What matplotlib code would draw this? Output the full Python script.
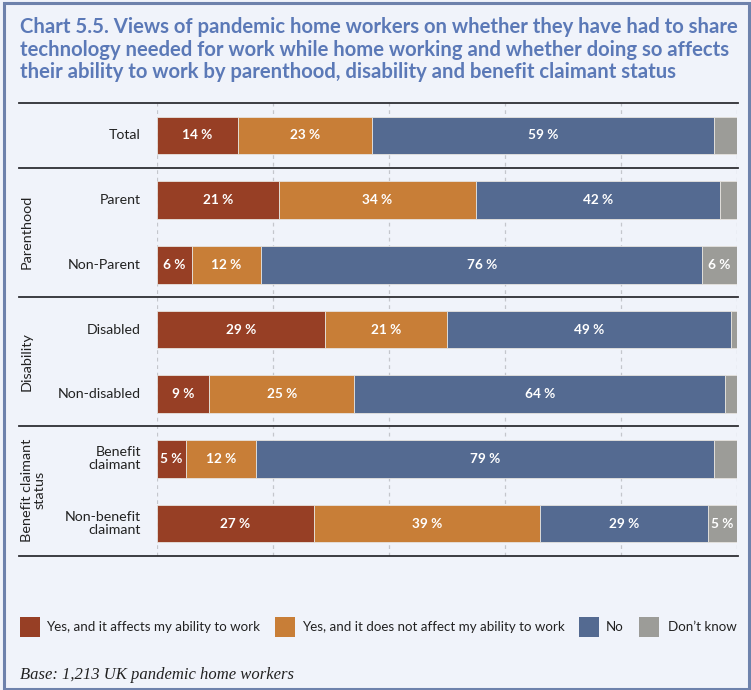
import matplotlib
matplotlib.use("Agg")
import matplotlib.pyplot as plt
from matplotlib.patches import Rectangle
import numpy as np

# Survey responses (percent of pandemic home workers)
categories = ["Total", "Parent", "Non-Parent", "Disabled", "Non-disabled",
              "Benefit\nclaimant", "Non-benefit\nclaimant"]
yes_affects = [14, 21, 6, 29, 9, 5, 27]
yes_not_affects = [23, 34, 12, 21, 25, 12, 39]
no = [59, 42, 76, 49, 64, 79, 29]
dont_know = [4, 3, 6, 1, 3, 4, 5]

series_names = ["Yes, and it affects my ability to work",
                "Yes, and it does not affect my ability to work",
                "No", "Don\u2019t know"]
series = [yes_affects, yes_not_affects, no, dont_know]
colors = ["#973F25", "#C87E37", "#546A91", "#9C9C98"]

groups = ["Parenthood", "Disability", "Benefit claimant\nstatus"]

title_lines = ["Chart 5.5. Views of pandemic home workers on whether they have had to share",
               "technology needed for work while home working and whether doing so affects",
               "their ability to work by parenthood, disability and benefit claimant status"]
note = "Base: 1,213 UK pandemic home workers"

plt.rcParams["font.family"] = ["Lato", "DejaVu Sans"]

BG = "#F0F3FA"
TITLE_C = "#5B79B7"
BORDER = "#6E82AC"
TXT = "#222222"
W, H = 751, 690

fig = plt.figure(figsize=(W / 100, H / 100), dpi=100, facecolor=BG)
renderer = fig.canvas.get_renderer()


def fit_width(t, target_px):
    """Scale a text's font size so that its rendered width is target_px."""
    w = t.get_window_extent(renderer).width
    t.set_fontsize(t.get_fontsize() * target_px / w)


# Frame around the whole figure
fig.patches.append(Rectangle((3.5 / W, 1.5 / H), 745 / W, 686 / H, transform=fig.transFigure,
                             fill=False, edgecolor=BORDER, linewidth=2.2, zorder=0))

# Title, one text per line so each line can be placed exactly
t0 = fig.text(20 / W, 1 - 27 / H, title_lines[0], ha="left", va="center",
              color=TITLE_C, fontsize=14, fontweight="bold")
fit_width(t0, 722)
tsize = t0.get_fontsize()
for line, yc in zip(title_lines[1:], [49.5, 72]):
    fig.text(20 / W, 1 - yc / H, line, ha="left", va="center", color=TITLE_C,
             fontsize=tsize, fontweight="bold")

# Plot area: x from 157 to 737 px, y from 103 to 556 px
ax_l, ax_r, ax_t, ax_b = 157, 737, 103, 556
ax = fig.add_axes([ax_l / W, 1 - ax_b / H, (ax_r - ax_l) / W, (ax_b - ax_t) / H])
ax.set_facecolor("none")
n = len(categories)
ypos = np.arange(n)
ax.set_xlim(0, 100)
ax.set_ylim(n - 0.5, -0.5)
for s in ax.spines.values():
    s.set_visible(False)
ax.set_xticks([])
ax.set_yticks([])

for gx in range(0, 101, 20):
    ax.axvline(gx, color="#C4C6CC", lw=0.9, ls=(0, (3, 3)), zorder=0)

left = np.zeros(n)
for vals, col in zip(series, colors):
    vals = np.array(vals, dtype=float)
    ax.barh(ypos, vals, left=left, height=0.58, color=col, edgecolor="#E6E3DF",
            linewidth=0.6, zorder=2)
    for yi, (lft, v) in enumerate(zip(left, vals)):
        if v >= 5:
            ax.text(lft + v / 2, yi, f"{int(v)} %", ha="center", va="center",
                    color="white", fontsize=9.8, fontweight="bold", zorder=3)
    left += vals

# Horizontal separators between groups (in figure pixels)
for yline in [103, 168, 297, 426, 556]:
    fig.add_artist(plt.Line2D([19 / W, 738 / W], [1 - yline / H, 1 - yline / H],
                              transform=fig.transFigure, color="#2E2E33", lw=1.3))

# Row labels
for yi, cat in enumerate(categories):
    ax.annotate(cat, xy=(0, yi), xycoords="data", xytext=(-16, 0),
                textcoords="offset pixels", ha="right", va="center",
                fontsize=10.2, color=TXT, linespacing=1.1)

# Group labels (rotated)
group_pos = [(27, 232), (27, 362), (33, 490)]
for g, (gx, gy) in zip(groups, group_pos):
    fig.text(gx / W, 1 - gy / H, g, rotation=90, ha="center", va="center",
             fontsize=10.4, color=TXT, linespacing=1.05)

# Legend
leg_y = 627
sq = 20
leg_items = [(20, 46), (275, 302), (579, 606), (639, 668)]
for (sx, tx), name, col in zip(leg_items, series_names, colors):
    fig.patches.append(Rectangle((sx / W, 1 - (leg_y + sq / 2) / H), sq / W, sq / H,
                                 transform=fig.transFigure, facecolor=col, edgecolor="none"))
    fig.text(tx / W, 1 - leg_y / H, name, ha="left", va="center", fontsize=9.6,
             color=TXT)

fig.text(20 / W, 1 - 675 / H, note, ha="left", va="center", fontsize=12,
         style="italic", family="Liberation Serif", color=TXT)

fig.savefig("out.png", dpi=100, facecolor=BG)
